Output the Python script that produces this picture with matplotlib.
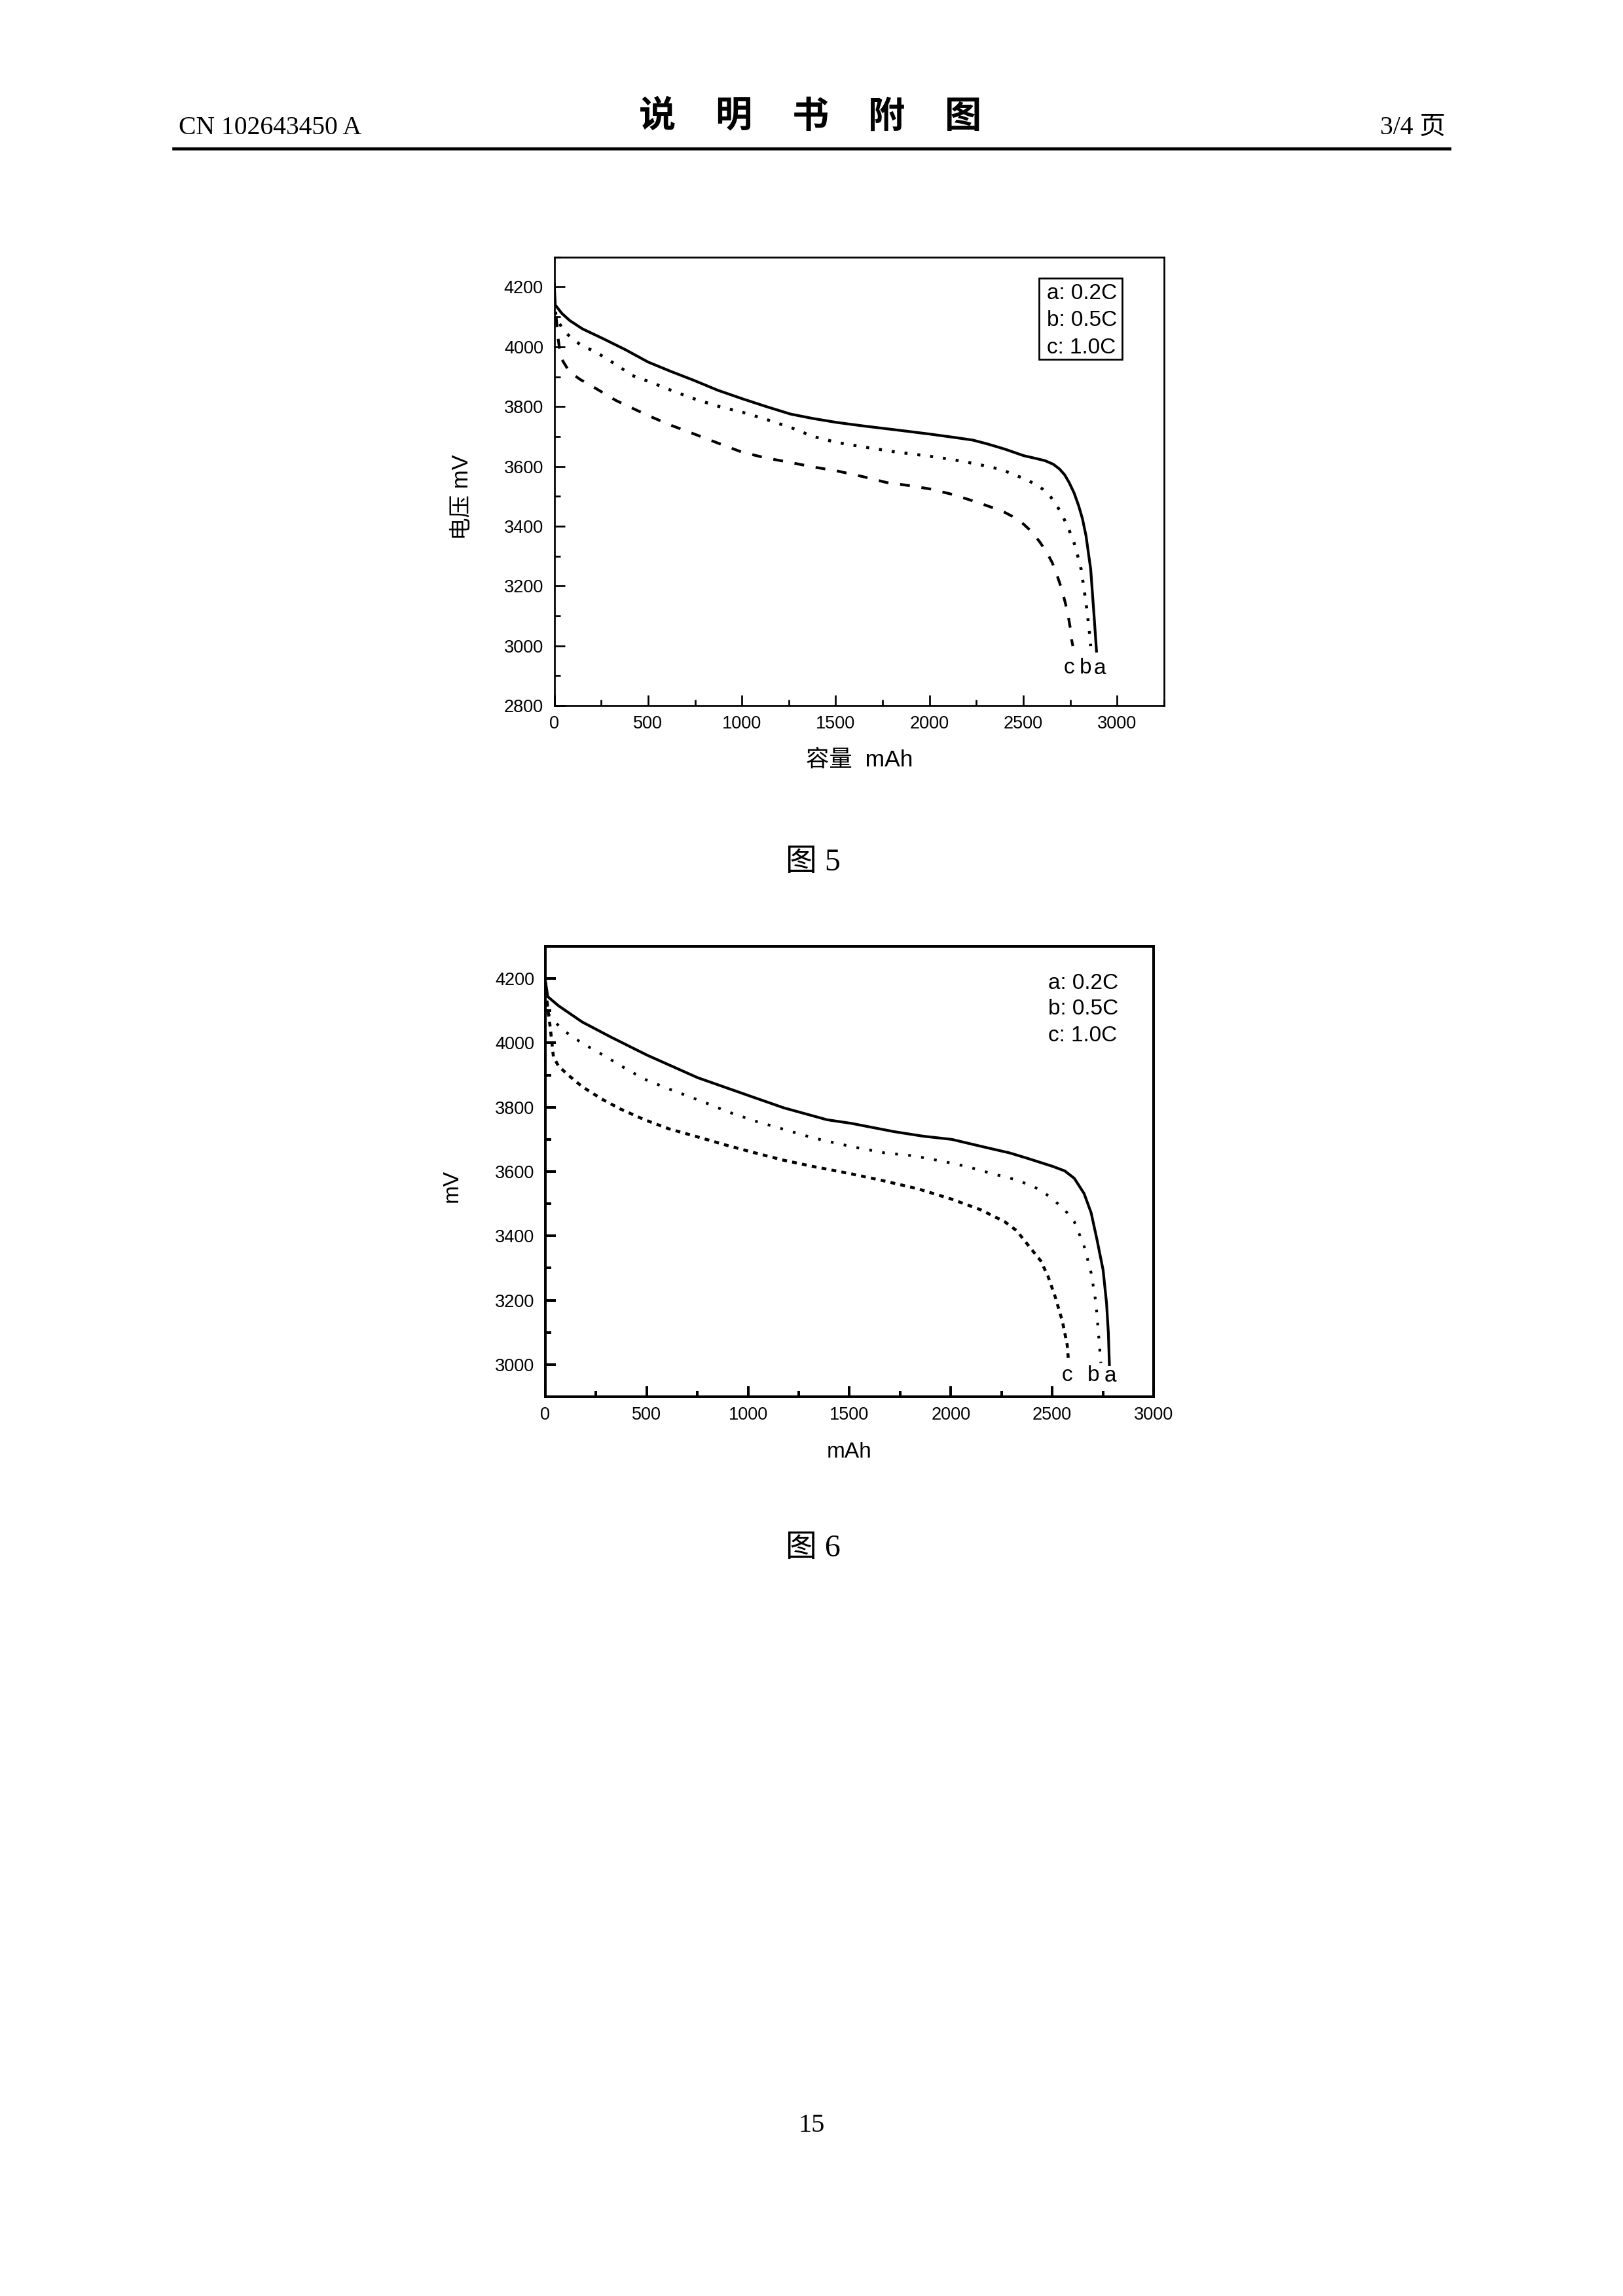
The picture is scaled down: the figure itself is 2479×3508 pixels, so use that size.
import matplotlib
matplotlib.use('Agg')
import matplotlib.pyplot as plt
from matplotlib.ticker import MultipleLocator
from matplotlib.lines import Line2D
from matplotlib.patches import Rectangle

# ---------------- data ----------------
# Figure 5 : capacity (mAh) vs voltage (mV)
cap_a5 = [0, 5, 40, 82, 150, 261, 380, 500, 620, 747, 870, 1003, 1130, 1259, 1380, 1505,
          1650, 1848, 2002, 2130, 2230, 2309, 2400, 2501, 2570, 2616, 2660, 2693, 2720,
          2744, 2770, 2795, 2815, 2834, 2859, 2877, 2890]
volt_a5 = [4210, 4140, 4112, 4088, 4060, 4027, 3990, 3949, 3918, 3887, 3855, 3826, 3800,
           3775, 3760, 3747, 3735, 3720, 3708, 3697, 3688, 3675, 3658, 3636, 3626, 3619,
           3607, 3591, 3572, 3546, 3512, 3468, 3425, 3368, 3256, 3100, 2982]

cap_b5 = [0, 8, 25, 56, 100, 146, 223, 338, 415, 500, 620, 750, 880, 1003, 1130, 1260,
          1380, 1505, 1650, 1800, 2000, 2130, 2250, 2380, 2500, 2560, 2603, 2640, 2667,
          2695, 2718, 2745, 2770, 2790, 2808, 2834, 2850, 2859]
volt_b5 = [4160, 4110, 4080, 4050, 4025, 4004, 3982, 3937, 3904, 3885, 3855, 3825, 3800,
           3781, 3757, 3730, 3700, 3680, 3665, 3650, 3634, 3622, 3608, 3590, 3560, 3542,
           3524, 3503, 3479, 3452, 3423, 3385, 3345, 3300, 3256, 3144, 3060, 2999]

cap_c5 = [0, 10, 20, 30, 40, 82, 140, 210, 330, 500, 620, 747, 880, 1003, 1130, 1259,
          1380, 1505, 1650, 1771, 1900, 2007, 2130, 2258, 2386, 2450, 2501, 2550, 2590,
          2625, 2654, 2680, 2705, 2725, 2739, 2750, 2757, 2764]
volt_c5 = [4170, 4100, 4030, 3985, 3958, 3915, 3890, 3865, 3820, 3770, 3738, 3708, 3676,
           3647, 3628, 3613, 3598, 3585, 3565, 3546, 3535, 3524, 3505, 3479, 3451, 3430,
           3407, 3378, 3345, 3312, 3278, 3235, 3189, 3140, 3100, 3060, 3021, 2999]

# Figure 6
cap_a6 = [0, 12, 64, 182, 324, 502, 751, 1004, 1177, 1390, 1508, 1721, 1863, 2005, 2159,
          2290, 2384, 2503, 2562, 2609, 2657, 2692, 2721, 2751, 2768, 2777, 2782]
volt_a6 = [4195, 4144, 4116, 4065, 4018, 3962, 3892, 3836, 3798, 3761, 3750, 3724, 3710,
           3700, 3677, 3658, 3640, 3616, 3602, 3579, 3532, 3472, 3388, 3294, 3191, 3098, 3000]

cap_b6 = [0, 17, 76, 135, 194, 308, 372, 490, 609, 786, 904, 1035, 1200, 1319, 1449, 1556,
          1674, 1816, 1958, 2077, 2207, 2325, 2396, 2444, 2503, 2562, 2609, 2657, 2692,
          2716, 2728, 2740]
volt_b6 = [4172, 4088, 4046, 4018, 3995, 3954, 3929, 3887, 3857, 3815, 3785, 3757, 3727,
           3705, 3686, 3672, 3658, 3649, 3632, 3616, 3593, 3574, 3556, 3542, 3514, 3481,
           3444, 3369, 3285, 3191, 3098, 3005]

cap_c6 = [0, 12, 24, 40, 64, 111, 182, 277, 372, 490, 609, 739, 893, 1035, 1177, 1319,
          1508, 1650, 1840, 2005, 2148, 2266, 2325, 2384, 2444, 2479, 2515, 2550, 2574, 2581]
volt_c6 = [4190, 4107, 4050, 3957, 3929, 3901, 3864, 3826, 3794, 3761, 3733, 3710, 3682,
           3658, 3635, 3616, 3593, 3574, 3546, 3514, 3481, 3444, 3416, 3369, 3322, 3275,
           3210, 3135, 3061, 3005]

legend_labels = ['a: 0.2C', 'b: 0.5C', 'c: 1.0C']
curve_labels = ['a', 'b', 'c']
x_ticks_major = 500
x_ticks_minor = 250
y_ticks_major = 200
y_ticks_minor = 100

# ---------------- page ----------------
W, H = 2479, 3508
DPI = 300
plt.rcParams['font.family'] = ['Liberation Sans', 'Noto Sans CJK SC']
SERIF = ['Liberation Serif', 'Noto Sans CJK SC']
CJK = ['Noto Sans CJK SC', 'Liberation Sans']

fig = plt.figure(figsize=(W / DPI, H / DPI), dpi=DPI)
fig.patch.set_facecolor('white')


def fx(x):
    return x / W


def fy(y):
    return 1 - y / H


# header
fig.text(fx(273), fy(205), "CN 102643450 A", family=SERIF, fontsize=9.5,
         ha='left', va='baseline')
for i, ch in enumerate("说明书附图"):
    fig.text(fx(1004 + i * 116.75), fy(178), ch, family=CJK, fontsize=13.5,
             weight='bold', ha='center', va='center')
fig.text(fx(2208), fy(205), "3/4 页", family=SERIF, fontsize=9.5,
         ha='right', va='baseline')
fig.add_artist(Line2D([fx(265), fx(2214)], [fy(226.5), fy(226.5)], color='black',
                      lw=1.1, transform=fig.transFigure))


def px_axes(l, t, r, b):
    return fig.add_axes([l / W, 1 - b / H, (r - l) / W, (b - t) / H])


def style(ax, spine_lw, xlim, ylim):
    ax.set_xlim(*xlim)
    ax.set_ylim(*ylim)
    ax.xaxis.set_major_locator(MultipleLocator(x_ticks_major))
    ax.xaxis.set_minor_locator(MultipleLocator(x_ticks_minor))
    ax.yaxis.set_major_locator(MultipleLocator(y_ticks_major))
    ax.yaxis.set_minor_locator(MultipleLocator(y_ticks_minor))
    ax.tick_params(which='both', direction='in', top=False, right=False,
                   width=spine_lw, labelsize=6.5, colors='black')
    ax.tick_params(which='major', length=3.8)
    ax.tick_params(which='minor', length=2.2)
    ax.tick_params(axis='x', pad=3.6)
    ax.tick_params(axis='y', pad=4.0)
    for s in ax.spines.values():
        s.set_linewidth(spine_lw)
        s.set_color('black')


# ---------------- Figure 5 ----------------
ax1 = px_axes(846.6, 392.8, 1778, 1078)
style(ax1, 0.65, (0, 3250), (2800, 4300))
ax1.plot(cap_a5, volt_a5, color='black', lw=1.0, ls='-')
ax1.plot(cap_b5, volt_b5, color='black', lw=1.1, ls=(0, (1, 3.3)))
ax1.plot(cap_c5, volt_c5, color='black', lw=1.0, ls=(0, (3.6, 4.3)))
ax1.set_xlabel("容量  mAh", fontsize=8.5)
ax1.set_ylabel("电压 mV", fontsize=8.3)
ax1.xaxis.set_label_coords(0.5, -0.098)
ax1.yaxis.set_label_coords(-0.1341, 0.464)
ax1.add_patch(Rectangle((0.7945, 0.772), 0.1363, 0.181, transform=ax1.transAxes,
                        fill=False, lw=0.65, edgecolor='black'))
for lbl, yc in zip(legend_labels, [0.918, 0.8586, 0.7976]):
    ax1.text(0.8075, yc, lbl, transform=ax1.transAxes, fontsize=8, ha='left', va='center')
for lbl, xs, ys, off in zip(curve_labels, [cap_a5, cap_b5, cap_c5], [volt_a5, volt_b5, volt_c5],
                            [(1.3, -6.4), (-1.9, -8.1), (-1.3, -8.1)]):
    ax1.annotate(lbl, xy=(xs[-1], ys[-1]), xytext=off, textcoords='offset points',
                 fontsize=8, ha='center', va='center')

fig.text(fx(1241.5), fy(1330), "图 5", family=SERIF, fontsize=11.5, ha='center', va='baseline')

# ---------------- Figure 6 ----------------
ax2 = px_axes(832.9, 1446, 1762, 2134)
style(ax2, 0.95, (0, 3000), (2900, 4300))
ax2.plot(cap_a6, volt_a6, color='black', lw=1.0, ls='-')
ax2.plot(cap_b6, volt_b6, color='black', lw=1.0, ls=(0, (1, 3.8)))
ax2.plot(cap_c6, volt_c6, color='black', lw=1.1, ls=(0, (1.6, 1.75)))
ax2.set_xlabel("mAh", fontsize=8)
ax2.set_ylabel("mV", fontsize=8)
ax2.xaxis.set_label_coords(0.5, -0.1003)
ax2.yaxis.set_label_coords(-0.1369, 0.4685)
for lbl, yc in zip(legend_labels, [0.9186, 0.8605, 0.8023]):
    ax2.text(0.8264, yc, lbl, transform=ax2.transAxes, fontsize=8, ha='left', va='center')
for lbl, xs, ys, off in zip(curve_labels, [cap_a6, cap_b6, cap_c6], [volt_a6, volt_b6, volt_c6],
                            [(0.4, -4.3), (-2.75, -4.5), (-0.5, -4.5)]):
    ax2.annotate(lbl, xy=(xs[-1], ys[-1]), xytext=off, textcoords='offset points',
                 fontsize=8, ha='center', va='center')

fig.text(fx(1241.5), fy(2378), "图 6", family=SERIF, fontsize=11.5, ha='center', va='baseline')

# page number
fig.text(fx(1240), fy(3256.7), "15", family=SERIF, fontsize=9.7, ha='center', va='baseline')

fig.savefig('out.png', dpi=DPI, facecolor='white')
